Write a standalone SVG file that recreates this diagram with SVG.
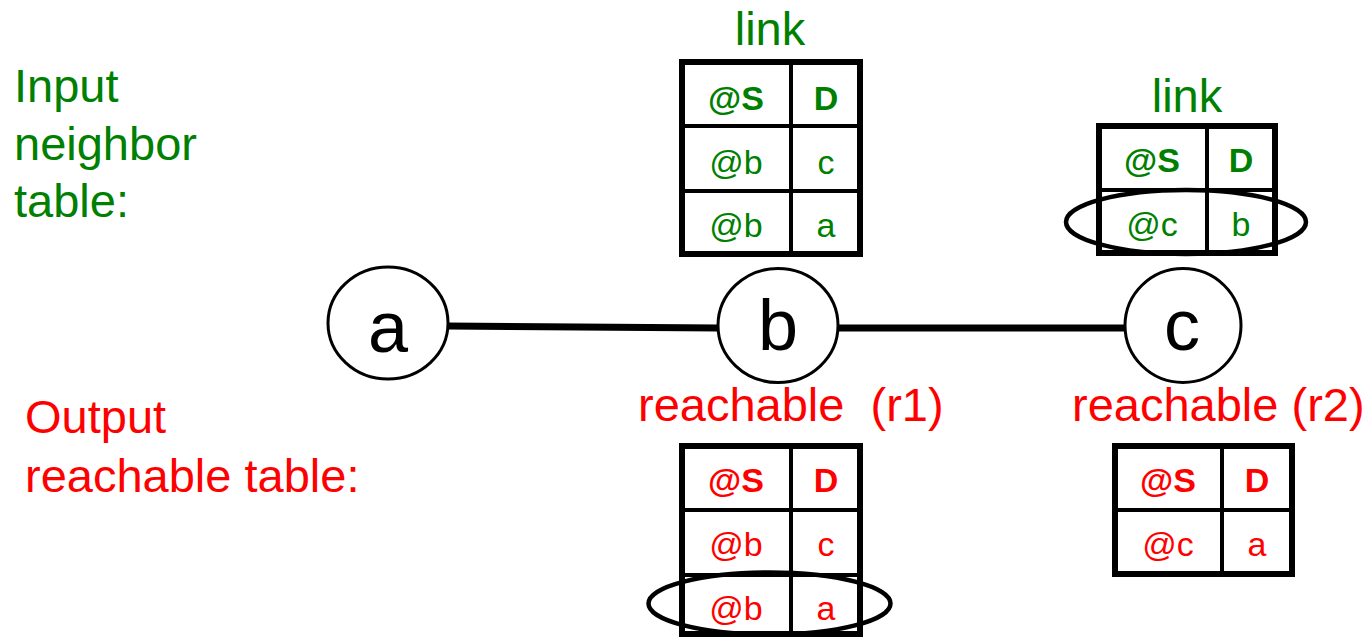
<svg xmlns="http://www.w3.org/2000/svg" width="1369" height="637" viewBox="0 0 1369 637">
  <style>
    text { font-family: "Liberation Sans", Arial, sans-serif; }
    .green { fill: #008000; }
    .red { fill: #ff0000; }
    .label { font-size: 47px; }
    .cell { font-size: 34px; text-anchor: middle; }
    .head { font-weight: bold; }
    .node-letter { font-size: 72px; text-anchor: middle; fill: #000; }
    .node-shape { fill: #fff; stroke: #000; stroke-width: 3; }
    .tbl-outer { fill: #fff; stroke: #000; stroke-width: 6; }
    .tbl-inner { stroke: #000; stroke-width: 4; }
    .mark { fill: none; stroke: #000; stroke-width: 4.5; }
    .edge { stroke: #000; stroke-width: 7; }
  </style>

  <!-- side captions -->
  <g id="caption-input" class="green label">
    <text x="14" y="102">Input</text>
    <text x="14" y="160">neighbor</text>
    <text x="14" y="217">table:</text>
  </g>
  <g id="caption-output" class="red label">
    <text x="25" y="433">Output</text>
    <text x="25" y="492">reachable table:</text>
  </g>

  <!-- edges between nodes -->
  <g id="connectors">
    <line class="edge" x1="447" y1="326" x2="719" y2="328"/>
    <line class="edge" x1="838" y1="328" x2="1126" y2="328"/>
  </g>

  <!-- network nodes -->
  <g id="node-a">
    <ellipse class="node-shape" cx="388" cy="323" rx="60" ry="56"/>
    <text class="node-letter" x="388" y="352">a</text>
  </g>
  <g id="node-b">
    <ellipse class="node-shape" cx="778" cy="325.5" rx="60" ry="57"/>
    <text class="node-letter" x="778" y="350">b</text>
  </g>
  <g id="node-c">
    <ellipse class="node-shape" cx="1183" cy="325.5" rx="58" ry="57"/>
    <text class="node-letter" x="1182" y="350">c</text>
  </g>

  <!-- link table at b -->
  <g id="link-b">
    <text class="green label" x="770" y="45" text-anchor="middle">link</text>
    <rect class="tbl-outer" x="682" y="62" width="178" height="192"/>
    <line class="tbl-inner" x1="791" y1="62" x2="791" y2="254"/>
    <line class="tbl-inner" x1="682" y1="126" x2="860" y2="126"/>
    <line class="tbl-inner" x1="682" y1="191" x2="860" y2="191"/>
    <g class="green cell">
      <text class="head" x="736" y="110">@S</text>
      <text class="head" x="826" y="110">D</text>
      <text x="736" y="174">@b</text>
      <text x="826" y="174">c</text>
      <text x="736" y="237">@b</text>
      <text x="826" y="237">a</text>
    </g>
  </g>

  <!-- link table at c -->
  <g id="link-c">
    <text class="green label" x="1187" y="112" text-anchor="middle">link</text>
    <rect class="tbl-outer" x="1099" y="126" width="176" height="127"/>
    <line class="tbl-inner" x1="1207" y1="126" x2="1207" y2="253"/>
    <line class="tbl-inner" x1="1099" y1="190" x2="1275" y2="190"/>
    <g class="green cell">
      <text class="head" x="1152" y="172">@S</text>
      <text class="head" x="1241" y="172">D</text>
      <text x="1152" y="236">@c</text>
      <text x="1241" y="236">b</text>
    </g>
    <ellipse class="mark" cx="1186" cy="222" rx="120" ry="32"/>
  </g>

  <!-- reachable table r1 at b -->
  <g id="reachable-r1">
    <text class="red label" x="638" y="421" xml:space="preserve">reachable  (r1)</text>
    <rect class="tbl-outer" x="682" y="446" width="178" height="188"/>
    <line class="tbl-inner" x1="791" y1="446" x2="791" y2="634"/>
    <line class="tbl-inner" x1="682" y1="510" x2="860" y2="510"/>
    <line class="tbl-inner" x1="682" y1="575" x2="860" y2="575"/>
    <g class="red cell">
      <text class="head" x="736" y="492">@S</text>
      <text class="head" x="826" y="492">D</text>
      <text x="736" y="556">@b</text>
      <text x="826" y="556">c</text>
      <text x="736" y="620">@b</text>
      <text x="826" y="620">a</text>
    </g>
    <ellipse class="mark" cx="769.5" cy="603.5" rx="121" ry="31"/>
  </g>

  <!-- reachable table r2 at c -->
  <g id="reachable-r2">
    <text class="red label" x="1072" y="421">reachable (r2)</text>
    <rect class="tbl-outer" x="1115" y="446" width="177" height="128"/>
    <line class="tbl-inner" x1="1222" y1="446" x2="1222" y2="574"/>
    <line class="tbl-inner" x1="1115" y1="510" x2="1292" y2="510"/>
    <g class="red cell">
      <text class="head" x="1168" y="492">@S</text>
      <text class="head" x="1257" y="492">D</text>
      <text x="1168" y="556">@c</text>
      <text x="1257" y="556">a</text>
    </g>
  </g>
</svg>
